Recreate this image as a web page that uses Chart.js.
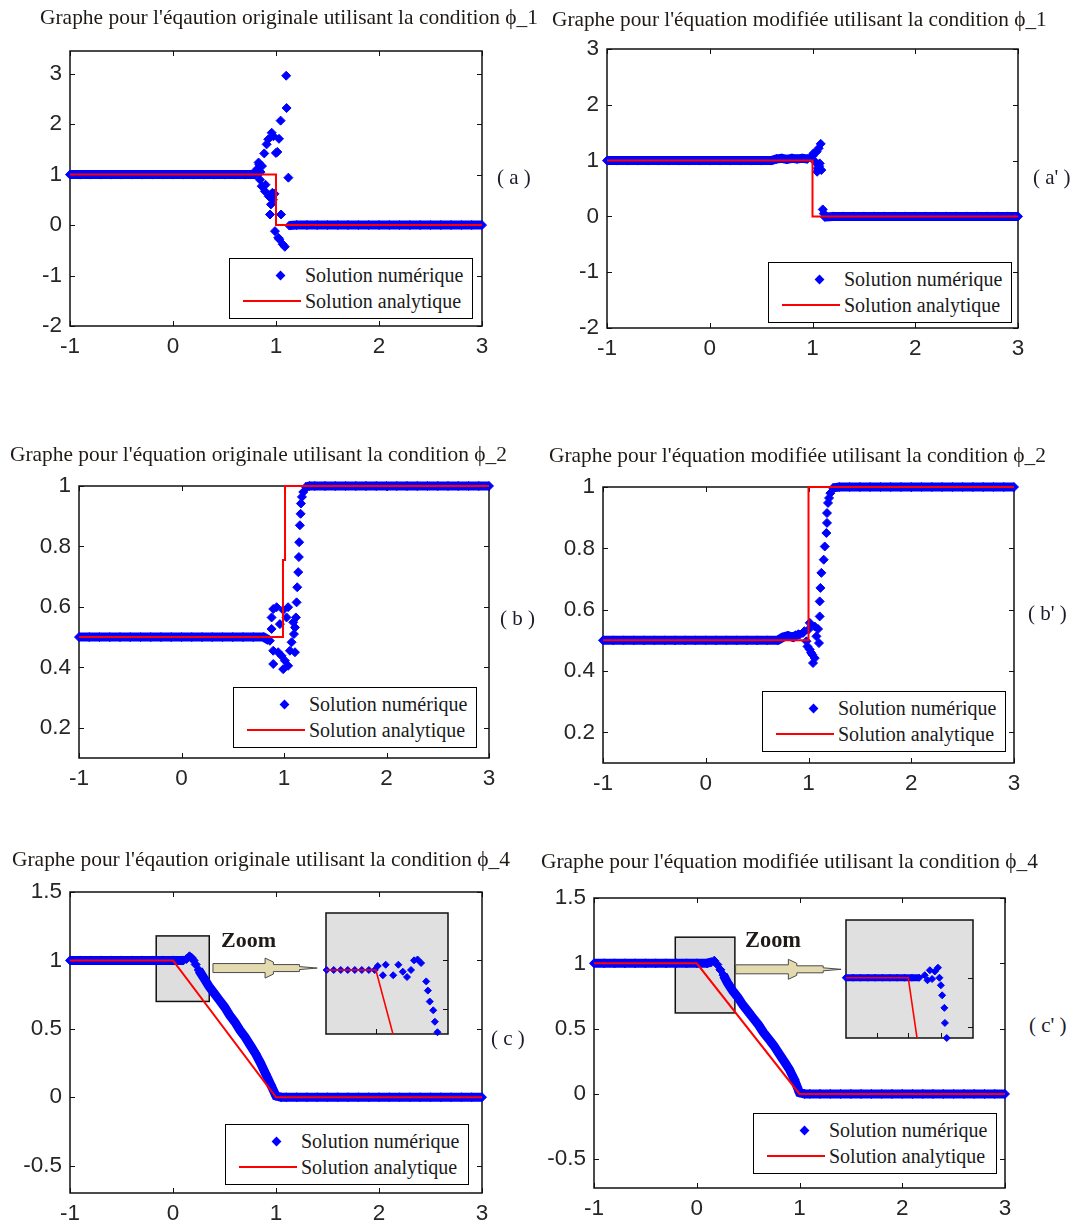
<!DOCTYPE html>
<html>
<head>
<meta charset="utf-8">
<script src="https://cdn.jsdelivr.net/npm/chart.js@4.4.1/dist/chart.umd.min.js"></script>
<style>
  body { margin: 0; background: #fff; }
  #page { position: relative; width: 1077px; height: 1226px; overflow: hidden; background: #fff; }
  canvas { position: absolute; z-index: 1; }
  .txt { position: absolute; z-index: 4; white-space: nowrap; line-height: 1; color: #1f1a16;
         font-family: "Liberation Serif", "DejaVu Serif", serif; transform: translateY(-50%); }
  .leg { position: absolute; z-index: 5; width: 242px; height: 59px; border: 1px solid #000; background: #fff; }
  .dia { position: absolute; left: 46.5px; top: 12.5px; width: 7px; height: 7px; background: #00f; transform: rotate(45deg); }
  .ln { position: absolute; left: 13px; top: 41px; width: 58px; height: 2px; background: #f00; }
</style>
</head>
<body>
<div id="page">
  <div class="txt" data-w="498" style="left:40px;top:18px;font-size:21px">Graphe pour l'éqaution originale utilisant la condition ϕ_1</div>
  <div class="txt" data-w="495" style="left:552px;top:20px;font-size:21px">Graphe pour l'équation modifiée utilisant la condition ϕ_1</div>
  <div class="txt" data-w="497" style="left:10px;top:455px;font-size:21px">Graphe pour l'équation originale utilisant la condition ϕ_2</div>
  <div class="txt" data-w="497" style="left:549px;top:456px;font-size:21px">Graphe pour l'équation modifiée utilisant la condition ϕ_2</div>
  <div class="txt" data-w="498" style="left:12px;top:860px;font-size:21px">Graphe pour l'éqaution originale utilisant la condition ϕ_4</div>
  <div class="txt" data-w="497" style="left:541px;top:862px;font-size:21px">Graphe pour l'équation modifiée utilisant la condition ϕ_4</div>

  <div class="txt" style="left:497px;top:177px;font-size:21px;color:#1c1c2c">( a )</div>
  <div class="txt" style="left:1033px;top:177px;font-size:21px;color:#1c1c2c">( a' )</div>
  <div class="txt" style="left:500px;top:618px;font-size:21px;color:#1c1c2c">( b )</div>
  <div class="txt" style="left:1028px;top:613px;font-size:21px;color:#1c1c2c">( b' )</div>
  <div class="txt" style="left:491px;top:1038px;font-size:21px;color:#1c1c2c">( c )</div>
  <div class="txt" style="left:1029px;top:1025px;font-size:21px;color:#1c1c2c">( c' )</div>

  <div class="txt" data-w="55" style="left:221px;top:940px;font-size:23px;font-weight:bold">Zoom</div>
  <div class="txt" data-w="56" style="left:745px;top:940px;font-size:23px;font-weight:bold">Zoom</div>
</div>

<script>
// --- Valeurs (6 panneaux + 2 encarts) ---

const xTicks = [-1, 0, 1, 2, 3];
const yTicksA = [-2, -1, 0, 1, 2, 3];
const yTicksB = [0.2, 0.4, 0.6, 0.8, 1];
const yTicksC = [-0.5, 0, 0.5, 1, 1.5];

// (a) équation originale, condition phi_1
const numAx = [-1, -0.9, -0.8, -0.7, -0.6, -0.5, -0.4, -0.3, -0.2, -0.1, 0, 0.1, 0.2, 0.3, 0.4, 0.5, 0.6, 0.7, 0.8,
  0.812, 0.831, 0.838, 0.844, 0.85, 0.861, 0.864, 0.886, 0.893, 0.898, 0.909, 0.925, 0.93, 0.942, 0.948, 0.951, 0.958,
  0.965, 0.97, 0.975, 0.985, 0.99, 0.999, 1.013, 1.022, 1.029, 1.032, 1.045, 1.049, 1.065, 1.086, 1.099, 1.103, 1.12,
  1.13, 1.2, 1.3, 1.4, 1.5, 1.6, 1.7, 1.8, 1.9, 2, 2.1, 2.2, 2.3, 2.4, 2.5, 2.6, 2.7, 2.8, 2.9, 3];
const numAy = [1, 1, 1, 1, 1, 1, 1, 1, 1, 1, 1, 1, 1, 1, 1, 1, 1, 1, 1,
  1.10, 1.24, 1.20, 0.90, 1.05, 0.77, 1.17, 1.42, 0.67, 0.80, 1.60, 1.70, 0.57, 0.21, 0.60, 0.41, 1.83,
  0.64, 0.50, 1.76, 0.62, -0.12, 1.43, 1.45, -0.25, 1.71, -0.28, 2.07, 0.21, -0.38, -0.43, 2.96, 2.32, 0.94,
  -0.01, 0, 0, 0, 0, 0, 0, 0, 0, 0, 0, 0, 0, 0, 0, 0, 0, 0, 0, 0];
const anaAx = [-1, 1, 1, 3];
const anaAy = [1, 1, 0, 0];

// (a') équation modifiée, condition phi_1
const numA2x = [-1, -0.9, -0.8, -0.7, -0.6, -0.5, -0.4, -0.3, -0.2, -0.1, 0, 0.1, 0.2, 0.3, 0.4, 0.5, 0.6,
  0.65, 0.7, 0.75, 0.8, 0.85, 0.9, 0.95, 0.98, 1.0, 1.01, 1.03, 1.04, 1.045, 1.05, 1.06, 1.065, 1.07, 1.08, 1.086, 1.1, 1.11,
  1.12, 1.2, 1.3, 1.4, 1.5, 1.6, 1.7, 1.8, 1.9, 2, 2.1, 2.2, 2.3, 2.4, 2.5, 2.6, 2.7, 2.8, 2.9, 3];
const numA2y = [1, 1, 1, 1, 1, 1, 1, 1, 1, 1, 1, 1, 1, 1, 1, 1, 1,
  1.03, 1.04, 1.02, 1.04, 1.03, 1.04, 1.03, 1.06, 1.08, 1.13, 0.97, 1.16, 0.80, 0.86, 1.22, 0.90, 0.95, 1.30, 0.83, 0.125, 0.05,
  -0.01, 0, 0, 0, 0, 0, 0, 0, 0, 0, 0, 0, 0, 0, 0, 0, 0, 0, 0, 0];
const anaA2x = [-1, 1, 1, 3];
const anaA2y = [1, 1, 0, 0];

// (b) équation originale, condition phi_2
const numBx = [-1, -0.9, -0.8, -0.7, -0.6, -0.5, -0.4, -0.3, -0.2, -0.1, 0, 0.1, 0.2, 0.3, 0.4, 0.5, 0.6, 0.7, 0.8,
  0.862, 0.879, 0.879, 0.895, 0.895, 0.895, 0.928, 0.943, 0.96, 0.976, 0.992, 0.992, 1.009, 1.025, 1.04, 1.04, 1.058,
  1.074, 1.09, 1.097, 1.107, 1.107, 1.116, 1.123, 1.129, 1.139, 1.145, 1.148, 1.155, 1.162, 1.165, 1.175, 1.188, 1.214,
  1.25, 1.3, 1.4, 1.5, 1.6, 1.7, 1.8, 1.9, 2, 2.1, 2.2, 2.3, 2.4, 2.5, 2.6, 2.7, 2.8, 2.9, 3];
const numBy = [0.5, 0.5, 0.5, 0.5, 0.5, 0.5, 0.5, 0.5, 0.5, 0.5, 0.5, 0.5, 0.5, 0.5, 0.5, 0.5, 0.5, 0.5, 0.5,
  0.488, 0.565, 0.527, 0.593, 0.455, 0.411, 0.599, 0.45, 0.543, 0.438, 0.59, 0.394, 0.422, 0.565, 0.599, 0.405, 0.455,
  0.483, 0.549, 0.51, 0.45, 0.532, 0.565, 0.615, 0.665, 0.715, 0.765, 0.814, 0.87, 0.908, 0.942, 0.964, 0.98, 0.997,
  1, 1, 1, 1, 1, 1, 1, 1, 1, 1, 1, 1, 1, 1, 1, 1, 1, 1, 1];
const anaBx = [-1, 0.99, 0.99, 1.01, 1.01, 3];
const anaBy = [0.5, 0.5, 0.755, 0.755, 1, 1];

// (b') équation modifiée, condition phi_2
const numB2x = [-1, -0.9, -0.8, -0.7, -0.6, -0.5, -0.4, -0.3, -0.2, -0.1, 0, 0.1, 0.2, 0.3, 0.4, 0.5, 0.6, 0.7,
  0.75, 0.8, 0.85, 0.9, 0.914, 0.946, 0.96, 0.98, 0.99, 1.0, 1.012, 1.012, 1.025, 1.038, 1.044, 1.061, 1.061, 1.077,
  1.093, 1.102, 1.109, 1.109, 1.116, 1.125, 1.148, 1.158, 1.174, 1.18, 1.18, 1.19, 1.2, 1.213, 1.239,
  1.3, 1.4, 1.5, 1.6, 1.7, 1.8, 1.9, 2, 2.1, 2.2, 2.3, 2.4, 2.5, 2.6, 2.7, 2.8, 2.9, 3];
const numB2y = [0.5, 0.5, 0.5, 0.5, 0.5, 0.5, 0.5, 0.5, 0.5, 0.5, 0.5, 0.5, 0.5, 0.5, 0.5, 0.5, 0.5, 0.5,
  0.51, 0.515, 0.51, 0.52, 0.519, 0.524, 0.53, 0.497, 0.48, 0.535, 0.557, 0.47, 0.46, 0.453, 0.426, 0.545, 0.442, 0.513,
  0.537, 0.491, 0.578, 0.627, 0.671, 0.72, 0.763, 0.806, 0.85, 0.883, 0.915, 0.948, 0.964, 0.98, 0.997,
  1, 1, 1, 1, 1, 1, 1, 1, 1, 1, 1, 1, 1, 1, 1, 1, 1, 1];
const anaB2x = [-1, 1, 1, 3];
const anaB2y = [0.5, 0.5, 1, 1];

// (c) équation originale, condition phi_4
const numCx = [-1, -0.9, -0.8, -0.7, -0.6, -0.5, -0.4, -0.3, -0.2, -0.1, 0, 0.1,
  0.13, 0.16, 0.18, 0.2, 0.22, 0.25, 0.3, 0.35, 0.4, 0.45, 0.5, 0.55, 0.6, 0.65, 0.7, 0.75, 0.8, 0.85, 0.9, 0.95, 1.0, 1.05, 1.1,
  1.2, 1.3, 1.4, 1.5, 1.6, 1.7, 1.8, 1.9, 2, 2.1, 2.2, 2.3, 2.4, 2.5, 2.6, 2.7, 2.8, 2.9, 3];
const numCy = [1, 1, 1, 1, 1, 1, 1, 1, 1, 1, 1, 1,
  1.01, 1.03, 1.02, 1.0, 0.97, 0.93, 0.87, 0.81, 0.76, 0.71, 0.66, 0.60, 0.55, 0.49, 0.44, 0.38, 0.32, 0.25, 0.17, 0.09, 0.01, 0, 0,
  0, 0, 0, 0, 0, 0, 0, 0, 0, 0, 0, 0, 0, 0, 0, 0, 0, 0, 0];
const anaCx = [-1, 0, 1, 3];
const anaCy = [1, 1, 0, 0];

// (c') équation modifiée, condition phi_4
const numC2x = [-1, -0.9, -0.8, -0.7, -0.6, -0.5, -0.4, -0.3, -0.2, -0.1, 0, 0.1,
  0.14, 0.17, 0.2, 0.23, 0.26, 0.3, 0.35, 0.4, 0.45, 0.5, 0.55, 0.6, 0.65, 0.7, 0.75, 0.8, 0.85, 0.9, 0.95, 1.0, 1.05, 1.1,
  1.2, 1.3, 1.4, 1.5, 1.6, 1.7, 1.8, 1.9, 2, 2.1, 2.2, 2.3, 2.4, 2.5, 2.6, 2.7, 2.8, 2.9, 3];
const numC2y = [1, 1, 1, 1, 1, 1, 1, 1, 1, 1, 1, 1,
  1.01, 1.02, 0.99, 0.95, 0.91, 0.85, 0.79, 0.74, 0.68, 0.63, 0.58, 0.53, 0.47, 0.42, 0.37, 0.31, 0.25, 0.19, 0.11, 0.01, 0, 0,
  0, 0, 0, 0, 0, 0, 0, 0, 0, 0, 0, 0, 0, 0, 0, 0, 0, 0, 0];
const anaC2x = [-1, 0, 1, 3];
const anaC2y = [1, 1, 0, 0];

// encarts "Zoom"
const insetCx = [-0.21, -0.18, -0.15, -0.12, -0.09, -0.06, -0.03, -0.005, 0.008, 0.03, 0.042, 0.074, 0.096, 0.115,
  0.133, 0.15, 0.163, 0.178, 0.193, 0.215, 0.222, 0.23, 0.245, 0.252, 0.263];
const insetCy = [1, 1, 1, 1, 1, 1, 1, 1, 1.0045, 0.994, 1.006, 0.994, 1.006, 0.998,
  0.992, 1.0, 1.011, 1.012, 1.008, 0.987, 0.9765, 0.964, 0.954, 0.941, 0.929];
const insetAnaCx = [-0.213, 0, 0.075];
const insetAnaCy = [1, 1, 0.925];

const insetC2x = [-0.34, -0.3, -0.26, -0.22, -0.18, -0.14, -0.1, -0.06, -0.02, 0.02, 0.06,
  0.09, 0.105, 0.118, 0.13, 0.145, 0.162, 0.17, 0.178, 0.185, 0.197, 0.2, 0.21];
const insetC2y = [1, 1, 1, 1, 1, 1, 1, 1, 1, 1, 1,
  1.002, 0.998, 1.006, 0.999, 1.005, 1.008, 1.0, 0.994, 0.986, 0.976, 0.964, 0.952];
const insetAnaC2x = [-0.34, 0, 0.05];
const insetAnaC2y = [1, 1, 0.95];

// rectangle de zoom et flèche (coordonnées de données)
const zoomBoxC = { x0: -0.163, x1: 0.352, y0: 0.70, y1: 1.179 };
const zoomArrowC = { x0: 0.388, x1: 1.40, y: 0.944 };
const zoomBoxC2 = { x0: -0.209, x1: 0.371, y0: 0.62, y1: 1.20 };
const zoomArrowC2 = { x0: 0.378, x1: 1.405, y: 0.954 };

const BLUE = '#0000ff';
const RED = '#ff0000';
const SERIF = '"Liberation Serif", "DejaVu Serif", serif';
const page = document.getElementById('page');
const pts = (xs, ys) => xs.map((x, i) => ({ x, y: ys[i] }));

// bande continue seulement là où les points sont réguliers (pas dans les oscillations)
function bandSegment(s) {
  const a = s.p0.parsed, b = s.p1.parsed;
  const dx = b.x - a.x;
  return dx > 0.035 && Math.abs((b.y - a.y) / dx) < 2;
}

// cadre, graduations intérieures (style MATLAB), rectangle gris et flèche
const frameTicks = {
  id: 'frameTicks',
  beforeDatasetsDraw(chart, args, o) {
    const { ctx, chartArea: a } = chart;
    const sx = chart.scales.x, sy = chart.scales.y;
    ctx.save();
    if (o.bg) {
      ctx.fillStyle = o.bg;
      ctx.fillRect(a.left, a.top, a.right - a.left, a.bottom - a.top);
    }
    if (o.box) {
      const x0 = sx.getPixelForValue(o.box.x0), x1 = sx.getPixelForValue(o.box.x1);
      const y0 = sy.getPixelForValue(o.box.y1), y1 = sy.getPixelForValue(o.box.y0);
      ctx.fillStyle = '#dedede';
      ctx.fillRect(x0, y0, x1 - x0, y1 - y0);
      ctx.strokeStyle = '#111';
      ctx.lineWidth = 1.5;
      ctx.strokeRect(x0, y0, x1 - x0, y1 - y0);
    }
    const len = 5;
    const all = !o.inset;
    ctx.strokeStyle = '#111';
    ctx.lineWidth = 1;
    ctx.beginPath();
    (o.xt || []).forEach(v => {
      const p = Math.round(sx.getPixelForValue(v)) + 0.5;
      ctx.moveTo(p, a.bottom); ctx.lineTo(p, a.bottom - len);
      if (all) { ctx.moveTo(p, a.top); ctx.lineTo(p, a.top + len); }
    });
    (o.yt || []).forEach(v => {
      const p = Math.round(sy.getPixelForValue(v)) + 0.5;
      ctx.moveTo(a.right, p); ctx.lineTo(a.right - len, p);
      if (all) { ctx.moveTo(a.left, p); ctx.lineTo(a.left + len, p); }
    });
    ctx.stroke();
    ctx.lineWidth = 1.5;
    ctx.strokeRect(a.left, a.top, a.right - a.left, a.bottom - a.top);
    ctx.restore();
  },
  afterDatasetsDraw(chart, args, o) {
    if (!o.arrow) return;
    const { ctx } = chart;
    const sx = chart.scales.x, sy = chart.scales.y;
    const x0 = sx.getPixelForValue(o.arrow.x0), x1 = sx.getPixelForValue(o.arrow.x1);
    const yc = sy.getPixelForValue(o.arrow.y), L = x1 - x0;
    const shape = [[0, -4.5], [0.5, -4.5], [0.5, -10], [0.58, -6], [0.58, -3.5], [0.83, -3.5], [0.83, -1.5], [1, 0],
      [0.83, 1.5], [0.83, 3.5], [0.58, 3.5], [0.58, 6], [0.5, 10], [0.5, 4.5], [0, 4.5]];
    ctx.save();
    ctx.beginPath();
    shape.forEach(([f, d], i) => (i ? ctx.lineTo : ctx.moveTo).call(ctx, x0 + f * L, yc + d));
    ctx.closePath();
    ctx.fillStyle = '#e4dab0';
    ctx.fill();
    ctx.strokeStyle = '#4a4a4a';
    ctx.lineWidth = 1;
    ctx.stroke();
    ctx.restore();
  }
};

function addCanvas(box, pad) {
  const c = document.createElement('canvas');
  const w = box.r - box.l + pad.l + pad.r, h = box.b - box.t + pad.t + pad.b;
  c.width = w; c.height = h;
  c.style.left = (box.l - pad.l) + 'px';
  c.style.top = (box.t - pad.t) + 'px';
  c.style.width = w + 'px';
  c.style.height = h + 'px';
  page.appendChild(c);
  return c;
}

function axis(range, ticks, labels, fit) {
  return {
    type: 'linear', min: range[0], max: range[1],
    grid: { display: false, drawTicks: false },
    border: { display: false },
    ticks: {
      display: labels, autoSkip: false, maxRotation: 0, padding: 8,
      font: { family: 'Liberation Sans', size: 22.5 }, color: '#262626',
      callback: v => String(v)
    },
    afterBuildTicks: s => { s.ticks = ticks.map(v => ({ value: v })); },
    afterFit: fit
  };
}

function makeChart(p) {
  // la marge du haut doit couvrir la demi-hauteur du libellé supérieur + padding (≈21.5 px)
  const pad = p.inset ? { l: 8, t: 8, r: 8, b: 8 } : { l: 62, t: 24, r: 16, b: 40 };
  const c = addCanvas(p.box, pad);
  const r = p.inset ? 3.5 : 4.5;
  const xs = axis(p.xr, p.xt, !p.inset, s => { s.height = pad.b; });
  xs.ticks.padding = 7;
  return new Chart(c, {
    type: 'scatter',
    data: {
      datasets: [
        { data: pts(p.ax, p.ay), showLine: true, borderColor: RED, borderWidth: p.inset ? 1.6 : 2,
          pointRadius: 0, order: 1, clip: p.inset ? 0 : false },
        { data: pts(p.nx, p.ny), showLine: true, borderColor: BLUE, borderWidth: p.inset ? 7 : 9,
          segment: { borderColor: s => bandSegment(s) ? BLUE : 'rgba(0,0,0,0)' },
          pointStyle: 'rectRot', pointRadius: r, pointBackgroundColor: BLUE, pointBorderColor: BLUE,
          pointBorderWidth: 1, order: 2, clip: false }
      ]
    },
    options: {
      responsive: false, animation: false, devicePixelRatio: 1, events: [],
      layout: { padding: { left: 0, top: pad.t, right: pad.r, bottom: 0 }, autoPadding: false },
      plugins: {
        legend: { display: false }, tooltip: { enabled: false },
        frameTicks: { xt: p.xt, yt: p.yt, inset: p.inset, bg: p.bg, box: p.box2, arrow: p.arrow }
      },
      scales: {
        x: xs,
        y: axis(p.yr, p.yt, !p.inset, s => { s.width = pad.l; })
      }
    },
    plugins: [frameTicks]
  });
}

function legendText(txt, top) {
  const s = document.createElement('span');
  s.textContent = txt;
  Object.assign(s.style, {
    position: 'absolute', left: '75px', top: top + 'px', transform: 'translateY(-50%)',
    whiteSpace: 'nowrap', lineHeight: '1', fontFamily: SERIF, fontSize: '20px', color: '#1a1a1a'
  });
  return s;
}

function addLegend(left, top) {
  const d = document.createElement('div');
  d.className = 'leg';
  d.style.left = left + 'px';
  d.style.top = top + 'px';
  const dia = document.createElement('div'); dia.className = 'dia';
  const ln = document.createElement('div'); ln.className = 'ln';
  d.append(dia, legendText('Solution numérique', 16), ln, legendText('Solution analytique', 42));
  page.appendChild(d);
}

// panneaux principaux
makeChart({ box: { l: 70, t: 51, r: 482, b: 326 }, xr: [-1, 3], yr: [-2, 3.45], xt: xTicks, yt: yTicksA,
  nx: numAx, ny: numAy, ax: anaAx, ay: anaAy });
makeChart({ box: { l: 607, t: 49, r: 1018, b: 328 }, xr: [-1, 3], yr: [-2, 3], xt: xTicks, yt: yTicksA,
  nx: numA2x, ny: numA2y, ax: anaA2x, ay: anaA2y });
makeChart({ box: { l: 79, t: 486, r: 489, b: 758 }, xr: [-1, 3], yr: [0.1, 1], xt: xTicks, yt: yTicksB,
  nx: numBx, ny: numBy, ax: anaBx, ay: anaBy });
makeChart({ box: { l: 603, t: 487, r: 1014, b: 763 }, xr: [-1, 3], yr: [0.1, 1], xt: xTicks, yt: yTicksB,
  nx: numB2x, ny: numB2y, ax: anaB2x, ay: anaB2y });
makeChart({ box: { l: 70, t: 892, r: 482, b: 1193 }, xr: [-1, 3], yr: [-0.7, 1.5], xt: xTicks, yt: yTicksC,
  nx: numCx, ny: numCy, ax: anaCx, ay: anaCy, box2: zoomBoxC, arrow: zoomArrowC });
makeChart({ box: { l: 594, t: 898, r: 1005, b: 1188 }, xr: [-1, 3], yr: [-0.72, 1.5], xt: xTicks, yt: yTicksC,
  nx: numC2x, ny: numC2y, ax: anaC2x, ay: anaC2y, box2: zoomBoxC2, arrow: zoomArrowC2 });

// encarts
makeChart({ inset: true, bg: '#e0e0e0', box: { l: 326, t: 913, r: 448, b: 1034 }, xr: [-0.213, 0.308], yr: [0.927, 1.065],
  xt: [0], yt: [0.955, 1.011], nx: insetCx, ny: insetCy, ax: insetAnaCx, ay: insetAnaCy });
makeChart({ inset: true, bg: '#e0e0e0', box: { l: 846, t: 920, r: 973, b: 1038 }, xr: [-0.339, 0.353], yr: [0.952, 1.046],
  xt: [-0.17, 0, 0.18], yt: [0.961, 1.0], nx: insetC2x, ny: insetC2y, ax: insetAnaC2x, ay: insetAnaC2y });

// légendes
addLegend(229, 258);
addLegend(768, 262);
addLegend(233, 687);
addLegend(762, 691);
addLegend(225, 1124);
addLegend(753, 1113);

// ajuste la largeur des titres sur celle de la figure
document.querySelectorAll('[data-w]').forEach(el => {
  const w = el.getBoundingClientRect().width;
  const fs = parseFloat(el.style.fontSize);
  el.style.fontSize = (fs * Number(el.dataset.w) / w).toFixed(2) + 'px';
});
</script>
</body>
</html>
